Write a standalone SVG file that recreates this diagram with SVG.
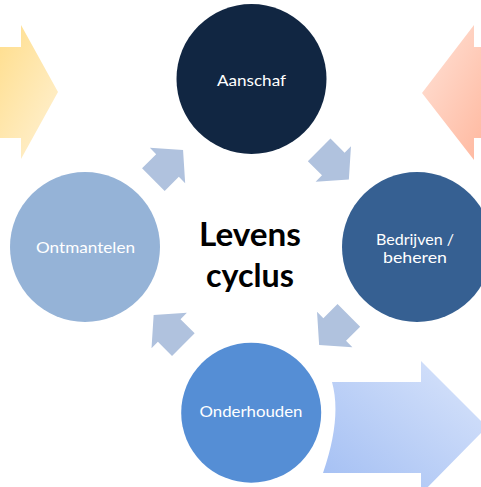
<svg xmlns="http://www.w3.org/2000/svg" xmlns:xlink="http://www.w3.org/1999/xlink" width="481" height="487" viewBox="0 0 481 487">
<defs>
<linearGradient id="gY" x1="0" y1="0" x2="1" y2="1">
<stop offset="0" stop-color="#FFDC86"/>
<stop offset="1" stop-color="#FFF2D6"/>
</linearGradient>
<linearGradient id="gS" x1="0" y1="0" x2="1" y2="1">
<stop offset="0" stop-color="#FFE3D8"/>
<stop offset="1" stop-color="#FFB59B"/>
</linearGradient>
<linearGradient id="gB" x1="0" y1="1" x2="1" y2="0">
<stop offset="0" stop-color="#A2BEF3"/>
<stop offset="1" stop-color="#DAE5FB"/>
</linearGradient>
<path id="sa" d="M-20,-16 L0,-16 L0,-25 L22,0 L0,25 L0,16 L-20,16 Z"/>
<style>
.lbl{font-family:Lato,"Open Sans","Liberation Sans",sans-serif;font-size:15px;fill:#FFFFFF;text-anchor:middle}
.ctr{font-family:Lato,"Open Sans","Liberation Sans",sans-serif;font-size:32px;font-weight:bold;fill:#000000;text-anchor:middle}
.sa{fill:#B0C2DE}
</style>
</defs>
<rect width="481" height="487" fill="#FFFFFF"/>
<g id="bg-arrows">
<polygon id="arrow-yellow" points="-10,47 21,47 21,25 58,92 21,159 21,138 -10,138" fill="url(#gY)"/>
<polygon id="arrow-salmon" points="491,47 474,47 474,25 422,93 474,160 474,138 491,138" fill="url(#gS)"/>
<path id="arrow-blue" d="M332,382 L421,382 L421,361 L487,427 L421,494 L421,473 L323,473 Q342,418 332,382 Z" fill="url(#gB)"/>
</g>
<g id="connectors">
<use xlink:href="#sa" class="sa" transform="translate(167.5,165.5) rotate(-45)"/>
<use xlink:href="#sa" class="sa" transform="translate(333.3,164) rotate(45)"/>
<use xlink:href="#sa" class="sa" transform="translate(334.7,329.5) rotate(135)"/>
<use xlink:href="#sa" class="sa" transform="translate(169.2,330.5) rotate(-135)"/>
</g>
<g id="aanschaf">
<circle cx="251.5" cy="79" r="75" fill="#112642"/>
<text class="lbl" x="251.5" y="86" textLength="69" lengthAdjust="spacingAndGlyphs">Aanschaf</text>
</g>
<g id="bedrijven">
<circle cx="417" cy="247" r="75" fill="#366092"/>
<text class="lbl" x="415" y="245" textLength="78" lengthAdjust="spacingAndGlyphs">Bedrijven /</text>
<text class="lbl" x="415" y="263" textLength="64" lengthAdjust="spacingAndGlyphs">beheren</text>
</g>
<g id="onderhouden">
<circle cx="251.2" cy="412.7" r="70" fill="#558ED5"/>
<text class="lbl" x="251" y="417" textLength="103" lengthAdjust="spacingAndGlyphs">Onderhouden</text>
</g>
<g id="ontmantelen">
<circle cx="85" cy="247" r="75" fill="#95B3D7"/>
<text class="lbl" x="85.5" y="253" textLength="99" lengthAdjust="spacingAndGlyphs">Ontmantelen</text>
</g>
<g id="center">
<text class="ctr" x="250" y="246" textLength="102" lengthAdjust="spacingAndGlyphs">Levens</text>
<text class="ctr" x="250" y="287" textLength="88" lengthAdjust="spacingAndGlyphs">cyclus</text>
</g>
</svg>
